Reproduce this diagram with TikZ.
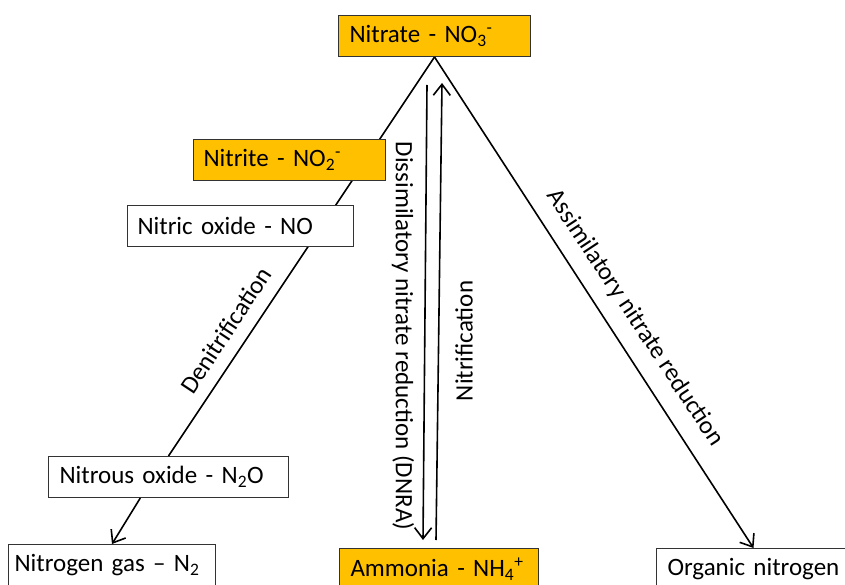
\documentclass[tikz,border=0pt]{standalone}
\usepackage{fontspec}
\setmainfont{Carlito}
\usetikzlibrary{arrows.meta,backgrounds,calc}
\definecolor{nitroorange}{HTML}{FFC000}
\begin{document}
\begin{tikzpicture}[x=1pt,y=-1pt,
  every node/.style={font=\fontsize{25}{30}\selectfont},
  box/.style={draw=black!80, line width=1pt, anchor=north west, inner xsep=11pt, inner ysep=0pt, minimum height=41pt, align=left, fill=white},
  hot/.style={box, fill=nitroorange},
  flow/.style={line width=1.6pt, draw=black},
  tip/.style={-{Straight Barb[length=11pt,width=17pt,line width=1.6pt]}},
  lab/.style={inner sep=0pt}
]
\useasboundingbox (0,0) rectangle (845,585);

\node[hot, text width=170pt] (nitrate) at (338,15) {Nitrate - NO\textsubscript{3}\textsuperscript{-}};
\node[hot, text width=172pt, inner xsep=10pt] (nitrite) at (193,139) {Nitrite - NO\textsubscript{2}\textsuperscript{-}};
\node[box, text width=206pt, inner xsep=10pt] (nitric) at (127,205) {Nitric oxide - NO};
\node[box, text width=218pt] (nitrous) at (48,456) {Nitrous oxide - N\textsubscript{2}O};
\node[box, text width=195pt, inner xsep=6pt] (ngas) at (8,544) {Nitrogen gas -- N\textsubscript{2}};
\node[hot, text width=177pt] (ammonia) at (339,548) {Ammonia - NH\textsubscript{4}\textsuperscript{+}};
\node[box, text width=172pt] (organic) at (656,548) {Organic nitrogen};

\coordinate (dnraTop) at (427,85);
\coordinate (dnraBot) at (423,540);
\coordinate (nitBot) at (436,540);
\coordinate (nitTop) at (442,83);
\coordinate (n2oOut) at ($(nitrous.south west)!0.383!(nitrous.south east)$);

\begin{scope}[on background layer]
\draw[flow] (nitrate.south) -- (nitrous.north);
\end{scope}
\draw[flow, tip] (n2oOut) -- (ngas.north);
\draw[flow, tip] (nitrate.south) -- (organic.north);
\draw[flow, tip] (dnraTop) -- (dnraBot);
\draw[flow, tip] (nitBot) -- (nitTop);

\node[lab, rotate=-90] (dnralab) at (403,336) {Dissimilatory nitrate reduction (DNRA)};
\node[lab, rotate=90] (nitlab) at (464,341) {Nitrification};
\node[lab, rotate=56.5] (denitlab) at (226,330) {Denitrification};
\node[lab, rotate=-56.6] (assimlab) at (635,318) {Assimilatory nitrate reduction};
\end{tikzpicture}
\end{document}
